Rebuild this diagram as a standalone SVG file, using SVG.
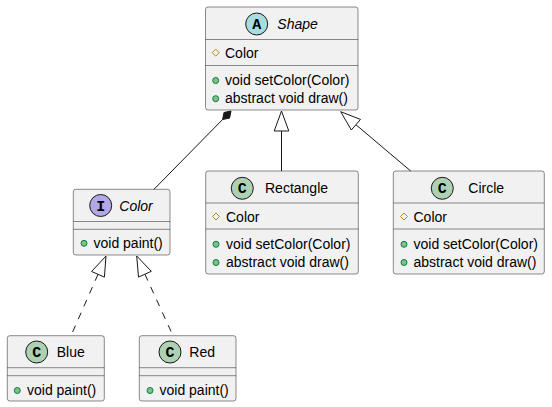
<svg xmlns="http://www.w3.org/2000/svg" width="552" height="407" viewBox="0 0 552 407">
<style>
  .box{fill:#F1F1F1;stroke:#181818;stroke-width:0.5}
  .sep{stroke:#181818;stroke-width:0.5}
  .t{font-family:"Liberation Sans",Arial,sans-serif;font-size:14px;fill:#000}
  .it{font-style:italic}
  .ltr{font-family:"Liberation Mono","Courier New",monospace;font-size:15px;font-weight:bold;fill:#000;text-anchor:middle}
  .ci{stroke:#181818;stroke-width:1}
  .prot{fill:none;stroke:#B38D22;stroke-width:1}
  .pub{fill:#84BE84;stroke:#038048;stroke-width:1}
  .ln{fill:none;stroke:#181818;stroke-width:1}
  .dash{stroke-dasharray:7,7}
  .head{fill:#FFFFFF;stroke:#181818;stroke-width:1}
  .comp{fill:#181818;stroke:#181818;stroke-width:1}
</style>
<g id="Shape">
  <rect class="box" x="205.5" y="7" width="152.5" height="103" rx="2.5"/>
  <line class="sep" x1="205.5" y1="39.5" x2="358" y2="39.5"/>
  <line class="sep" x1="205.5" y1="65.5" x2="358" y2="65.5"/>
  <circle class="ci" cx="256.7" cy="24" r="11" fill="#A9DCDF"/>
  <text class="ltr" x="256.7" y="29">A</text>
  <text class="t it" x="277.3" y="29.3">Shape</text>
  <polygon class="prot" points="215.7,49.2 219.2,52.7 215.7,56.2 212.2,52.7"/>
  <text class="t" x="225" y="57.7">Color</text>
  <circle class="pub" cx="215.7" cy="80.5" r="3"/>
  <text class="t" x="225" y="85">void setColor(Color)</text>
  <circle class="pub" cx="215.7" cy="98.7" r="3"/>
  <text class="t" x="225" y="103">abstract void draw()</text>
</g>
<g id="Rectangle">
  <rect class="box" x="205.7" y="171" width="152.6" height="103" rx="2.5"/>
  <line class="sep" x1="205.7" y1="203" x2="358.3" y2="203"/>
  <line class="sep" x1="205.7" y1="229" x2="358.3" y2="229"/>
  <circle class="ci" cx="242.3" cy="188.3" r="11" fill="#ADD1B2"/>
  <text class="ltr" x="242.3" y="193.3">C</text>
  <text class="t" x="265" y="193.3">Rectangle</text>
  <polygon class="prot" points="216,213 219.5,216.5 216,220 212.5,216.5"/>
  <text class="t" x="226" y="221.5">Color</text>
  <circle class="pub" cx="216" cy="244.3" r="3"/>
  <text class="t" x="226" y="248.7">void setColor(Color)</text>
  <circle class="pub" cx="216" cy="262.5" r="3"/>
  <text class="t" x="226" y="266.8">abstract void draw()</text>
</g>
<g id="Circle">
  <rect class="box" x="393.3" y="171" width="151" height="103" rx="2.5"/>
  <line class="sep" x1="393.3" y1="203" x2="544.3" y2="203"/>
  <line class="sep" x1="393.3" y1="229" x2="544.3" y2="229"/>
  <circle class="ci" cx="442.3" cy="188.3" r="11" fill="#ADD1B2"/>
  <text class="ltr" x="442.3" y="193.3">C</text>
  <text class="t" x="468.3" y="193.3">Circle</text>
  <polygon class="prot" points="404,213 407.5,216.5 404,220 400.5,216.5"/>
  <text class="t" x="413.5" y="221.5">Color</text>
  <circle class="pub" cx="404" cy="244.3" r="3"/>
  <text class="t" x="413.5" y="248.7">void setColor(Color)</text>
  <circle class="pub" cx="404" cy="262.5" r="3"/>
  <text class="t" x="413.5" y="266.8">abstract void draw()</text>
</g>
<g id="Color">
  <rect class="box" x="73.3" y="189.3" width="96.7" height="65.7" rx="2.5"/>
  <line class="sep" x1="73.3" y1="221.5" x2="170" y2="221.5"/>
  <line class="sep" x1="73.3" y1="229.3" x2="170" y2="229.3"/>
  <circle class="ci" cx="100.7" cy="205.5" r="11" fill="#B4A7E5"/>
  <text class="ltr" x="100.7" y="210.5">I</text>
  <text class="t it" x="119.3" y="210.5">Color</text>
  <circle class="pub" cx="84" cy="243.3" r="3"/>
  <text class="t" x="93.5" y="248">void paint()</text>
</g>
<g id="Blue">
  <rect class="box" x="7.3" y="335.7" width="97" height="65.3" rx="2.5"/>
  <line class="sep" x1="7.3" y1="367.7" x2="104.3" y2="367.7"/>
  <line class="sep" x1="7.3" y1="375.7" x2="104.3" y2="375.7"/>
  <circle class="ci" cx="36.7" cy="352" r="11" fill="#ADD1B2"/>
  <text class="ltr" x="36.7" y="357">C</text>
  <text class="t" x="56.7" y="357">Blue</text>
  <circle class="pub" cx="17.3" cy="390.5" r="3"/>
  <text class="t" x="27" y="395">void paint()</text>
</g>
<g id="Red">
  <rect class="box" x="139.3" y="335.7" width="96.7" height="65.3" rx="2.5"/>
  <line class="sep" x1="139.3" y1="367.7" x2="236" y2="367.7"/>
  <line class="sep" x1="139.3" y1="375.7" x2="236" y2="375.7"/>
  <circle class="ci" cx="170" cy="352" r="11" fill="#ADD1B2"/>
  <text class="ltr" x="170" y="357">C</text>
  <text class="t" x="189.3" y="357">Red</text>
  <circle class="pub" cx="150" cy="390.5" r="3"/>
  <text class="t" x="159.5" y="395">void paint()</text>
</g>
<g id="connectors">
  <line class="ln" x1="154" y1="189.3" x2="222.6" y2="119.5"/>
  <polygon class="comp" points="231,111 229.6,118.1 222.6,119.5 224,112.5"/>
  <line class="ln" x1="281.5" y1="131" x2="281.5" y2="171"/>
  <polygon class="head" points="281.5,111 288.8,131 274.2,131"/>
  <line class="ln" x1="355.9" y1="124.7" x2="410.7" y2="171"/>
  <polygon class="head" points="340.7,111.7 360.5,119.4 351.3,130"/>
  <line class="ln dash" x1="98" y1="274.3" x2="71" y2="335.7"/>
  <polygon class="head" points="106,256 104.4,277.1 91.6,271.5"/>
  <line class="ln dash" x1="144.9" y1="274.2" x2="173" y2="335.7"/>
  <polygon class="head" points="136.7,256 151.3,271.3 138.5,277.1"/>
</g>
</svg>
